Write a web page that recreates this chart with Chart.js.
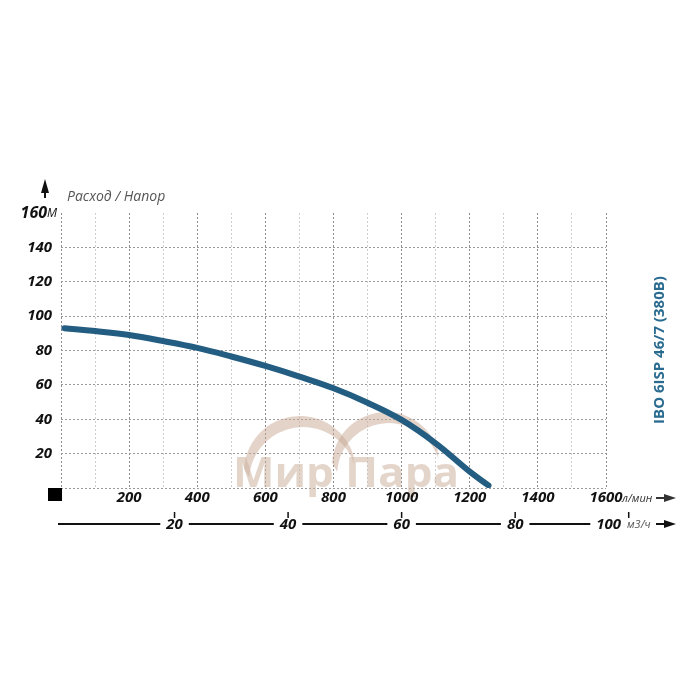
<!DOCTYPE html>
<html>
<head>
<meta charset="utf-8">
<script src="https://cdn.jsdelivr.net/npm/chart.js@4.4.1/dist/chart.umd.min.js"></script>
<style>
  html, body { margin: 0; padding: 0; background: #fff; }
  #wrap { width: 700px; height: 700px; }
</style>
</head>
<body>
<div id="wrap"><canvas id="curve"></canvas></div>
<script>
// flow, l/min and head, m
const flowLpm = [10, 100, 200, 300, 400, 500, 600, 700, 800, 900, 1000, 1100, 1200, 1255]
const headM = [93, 91.3, 89, 85.5, 81.5, 76.5, 71, 64.8, 58, 49.6, 39.6, 26, 9.5, 1.5]

// tick labels
const flowTicks = [200, 400, 600, 800, 1000, 1200, 1400, 1600]
const headTicks = [20, 40, 60, 80, 100, 120, 140, 160]
const m3hTicks = [20, 40, 60, 80, 100]

const LABEL_FONT = "italic bold 15px 'Open Sans', sans-serif"
const curveColor = "#245d82"

// draws all the text and decorations around the grid
const decorations = {
  id: "decorations",
  afterDraw(chart) {
    const ctx = chart.ctx
    const x = chart.scales.x
    const y = chart.scales.y
    const q = chart.scales.q
    ctx.save()

    // head labels
    ctx.fillStyle = "#111"
    ctx.font = LABEL_FONT
    ctx.textAlign = "right"
    ctx.textBaseline = "middle"
    headTicks.forEach((v) => {
      const py = y.getPixelForValue(v)
      if (v === 160) {
        ctx.font = "italic bold 16px 'Open Sans', sans-serif"
        ctx.fillText(v, 47, py)
        ctx.font = "italic 12px 'Open Sans', sans-serif"
        ctx.textAlign = "left"
        ctx.fillText("М", 47, py + 1)
        ctx.textAlign = "right"
        ctx.font = LABEL_FONT
      } else {
        ctx.fillText(v, 52, py)
      }
    })

    // up arrow and title
    ctx.beginPath()
    ctx.moveTo(45, 179)
    ctx.lineTo(41, 193)
    ctx.lineTo(49, 193)
    ctx.closePath()
    ctx.fill()
    ctx.fillRect(44, 190, 2, 8)
    ctx.font = "italic 14px 'Open Sans', sans-serif"
    ctx.fillStyle = "#555"
    ctx.textAlign = "left"
    ctx.fillText("Расход / Напор", 67, 197)

    // origin square
    ctx.fillStyle = "#000"
    ctx.fillRect(48, 488, 14, 13)

    // flow labels, l/min
    ctx.fillStyle = "#111"
    ctx.font = LABEL_FONT
    ctx.textAlign = "center"
    const rowY = 498
    flowTicks.forEach((v) => {
      ctx.fillText(v, x.getPixelForValue(v), rowY)
    })
    ctx.font = "italic 11px 'Open Sans', sans-serif"
    ctx.textAlign = "left"
    ctx.fillStyle = "#333"
    ctx.fillText("л/мин", 622, rowY + 1)
    drawArrow(ctx, 656, rowY, 20)

    // flow labels, m3/h
    const lineY = 524
    ctx.font = LABEL_FONT
    ctx.textAlign = "center"
    ctx.fillStyle = "#111"
    let prev = 58
    m3hTicks.forEach((v) => {
      const tx = q.getPixelForValue(v)
      const lx = v === 100 ? tx - 20 : tx
      const w = ctx.measureText(String(v)).width
      ctx.fillRect(prev, lineY - 1, lx - w / 2 - 6 - prev, 2)
      ctx.fillText(v, lx, lineY + 1)
      ctx.fillRect(tx - 0.75, 512, 1.5, 6)
      prev = lx + w / 2 + 6
    })
    ctx.font = "italic 11px 'Open Sans', sans-serif"
    ctx.textAlign = "left"
    ctx.fillStyle = "#555"
    ctx.fillText("м3/ч", 627, lineY + 1)
    ctx.fillStyle = "#111"
    drawArrow(ctx, 656, lineY, 20)

    // model name
    ctx.translate(660, 350)
    ctx.rotate(-Math.PI / 2)
    ctx.font = "bold 15px 'Open Sans', sans-serif"
    ctx.fillStyle = "#2a6b90"
    ctx.textAlign = "center"
    ctx.textBaseline = "middle"
    ctx.fillText("IBO 6ISP 46/7 (380В)", 0, 0)
    ctx.restore()
  },
  beforeDatasetsDraw(chart) {
    // watermark logo under the curve
    const ctx = chart.ctx
    ctx.save()
    ctx.globalAlpha = 0.5
    ctx.fillStyle = "#c7a893"
    crescent(ctx, 300, 472, 56, 303, 481, 54)
    crescent(ctx, 386, 466, 54, 389, 475, 52)
    ctx.globalAlpha = 0.55
    ctx.fillStyle = "#cdb2a1"
    ctx.font = "bold 42px 'Open Sans', sans-serif"
    const label = "Мир Пара"
    const w = ctx.measureText(label).width
    ctx.translate(233, 487)
    ctx.scale(226 / w, 1)
    ctx.textAlign = "left"
    ctx.textBaseline = "alphabetic"
    ctx.fillText(label, 0, 0)
    ctx.restore()
  },
}

function crescent(ctx, cx, cy, r, ix, iy, ir) {
  ctx.beginPath()
  ctx.arc(cx, cy, r, Math.PI * 1.02, Math.PI * 1.9)
  ctx.arc(ix, iy, ir, Math.PI * 1.9, Math.PI * 1.02, true)
  ctx.closePath()
  ctx.fill()
}

function drawArrow(ctx, x0, y0, len) {
  ctx.fillRect(x0, y0 - 1, len - 8, 2)
  ctx.beginPath()
  ctx.moveTo(x0 + len, y0)
  ctx.lineTo(x0 + len - 12, y0 - 4)
  ctx.lineTo(x0 + len - 12, y0 + 4)
  ctx.closePath()
  ctx.fill()
}

new Chart(document.getElementById("curve"), {
  type: "line",
  data: {
    datasets: [
      {
        data: flowLpm.map((f, i) => ({ x: f, y: headM[i] })),
        borderColor: curveColor,
        borderWidth: 6,
        pointRadius: 0,
        tension: 0.4,
        borderCapStyle: "round",
      },
    ],
  },
  options: {
    responsive: true,
    maintainAspectRatio: false,
    animation: false,
    layout: { padding: { left: 61, right: 94, top: 213, bottom: 212 } },
    plugins: { legend: { display: false }, tooltip: { enabled: false } },
    scales: {
      x: {
        type: "linear",
        min: 0,
        max: 1600,
        ticks: { display: false, stepSize: 100 },
        grid: {
          drawTicks: false,
          lineWidth: 1,
          color: (c) => (c.tick && c.tick.value % 200 === 0 ? "#8c8c8c" : "#cfcfcf"),
        },
        border: { display: false, dash: [2, 2] },
        afterFit: (s) => { s.height = 0 },
      },
      q: {
        type: "linear",
        position: "bottom",
        min: 0,
        max: 96,
        display: true,
        ticks: { display: false },
        grid: { display: false, drawTicks: false },
        border: { display: false },
        afterFit: (s) => { s.height = 0 },
      },
      y: {
        min: 0,
        max: 160,
        ticks: { display: false, stepSize: 20 },
        grid: {
          drawTicks: false,
          color: (c) => (c.tick && c.tick.value === 160 ? "rgba(0,0,0,0)" : "#9a9a9a"),
        },
        border: { display: false, dash: [2, 2] },
        afterFit: (s) => { s.width = 0 },
      },
    },
  },
  plugins: [decorations],
})
</script>
</body>
</html>
